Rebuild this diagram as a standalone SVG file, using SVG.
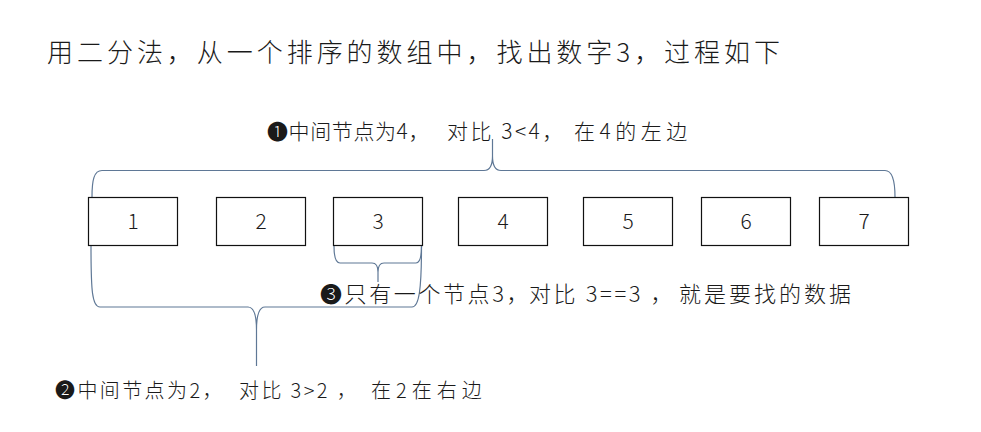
<svg xmlns="http://www.w3.org/2000/svg" width="981" height="432" viewBox="0 0 981 432">
<style>
.t{font-family:"Noto Sans CJK SC","Noto Sans",sans-serif;font-weight:300;fill:#1a1a1a}
.box{fill:#fff;stroke:#111;stroke-width:1.2}
.num{font-family:"Noto Sans CJK SC","Noto Sans",sans-serif;font-weight:300;font-size:21px;fill:#1a1a1a;text-anchor:middle}
.brace{fill:none;stroke:#5f7896;stroke-width:1.2}
</style>
<rect width="981" height="432" fill="#fff"/>
<text id="title" class="t" x="47" y="62" font-size="26" textLength="733" lengthAdjust="spacing">用二分法，从一个排序的数组中，找出数字3，过程如下</text>
<g id="connectors">
<path class="brace" d="M92,197 C92,180 94,170.5 102,170.5 L484,170.5 C490,170.5 492.5,166 492.5,156 L492.5,139 M492.5,156 C492.5,166 495,170.5 501,170.5 L885,170.5 C892,170.5 895,180 895,197"/>
<path class="brace" d="M91,246 C91,290 92,307 100,307 L248,307 C254,307 256.5,314 256.5,330 L256.5,366 M256.5,330 C256.5,314 259,307 265,307 L412,307 C419,307 421.5,290 421.5,246"/>
<path class="brace" d="M334,246 C334,256 335,263 340,263 L372,263 C376,263 378,266 378,272 L378,282 M378,272 C378,266 380,263 384,263 L416,263 C420,263 421.5,256 421.5,246"/>
</g>
<g id="node1"><rect class="box" x="88.5" y="197.5" width="89" height="48"/><text class="num" x="133" y="229">1</text></g>
<g id="node2"><rect class="box" x="216.5" y="197.5" width="89" height="48"/><text class="num" x="261" y="229">2</text></g>
<g id="node3"><rect class="box" x="333.5" y="197.5" width="89" height="48"/><text class="num" x="378" y="229">3</text></g>
<g id="node4"><rect class="box" x="458.5" y="197.5" width="89" height="48"/><text class="num" x="503" y="229">4</text></g>
<g id="node5"><rect class="box" x="583.5" y="197.5" width="89" height="48"/><text class="num" x="628" y="229">5</text></g>
<g id="node6"><rect class="box" x="701.5" y="197.5" width="89" height="48"/><text class="num" x="746" y="229">6</text></g>
<g id="node7"><rect class="box" x="819.5" y="197.5" width="89" height="48"/><text class="num" x="864" y="229">7</text></g>
<g id="label1"><text class="t" y="139" font-size="21" letter-spacing="0.6"><tspan x="267">❶中间节点为4，</tspan><tspan x="447" letter-spacing="2.5">对比 3&lt;4，</tspan><tspan x="574" letter-spacing="4.5">在4的左边</tspan></text></g>
<g id="label3"><text class="t" y="302" font-size="22" letter-spacing="2.6"><tspan x="320">❸只有一个节点3，</tspan><tspan x="529">对比 3==3 ，</tspan><tspan x="679" letter-spacing="3">就是要找的数据</tspan></text></g>
<g id="label2"><text class="t" y="398" font-size="20" letter-spacing="2.4"><tspan x="55">❷中间节点为2，</tspan><tspan x="239">对比 3&gt;2 ，</tspan><tspan x="371" letter-spacing="5">在2在右边</tspan></text></g>
</svg>
